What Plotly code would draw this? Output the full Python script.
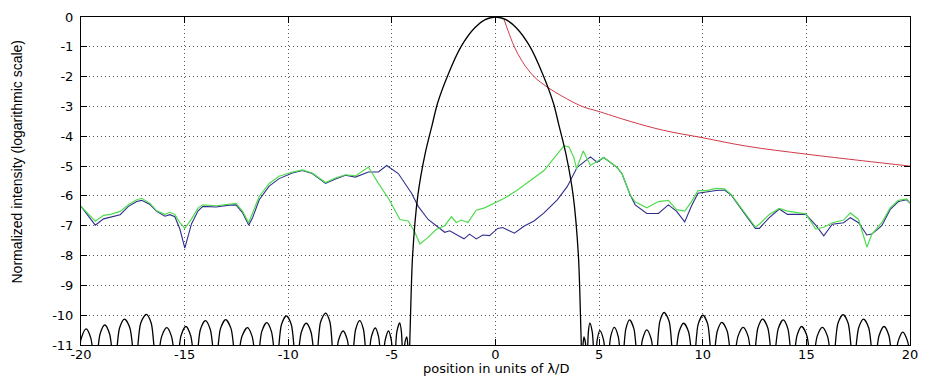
import plotly.graph_objects as go

# ---------------- data ----------------
# black: apodized PSF (log10 intensity), sidelobe arches + main lobe
black_x = [
    -20.2, -19.98, -19.75, -19.53, -19.30, -19.08, -18.85, -18.62, -18.38,
    -18.14, -17.90, -17.64, -17.38, -17.12, -16.85, -16.61, -16.36,
    -16.11, -15.86, -15.63, -15.40, -15.17, -14.94, -14.71, -14.47,
    -14.24, -14.00, -13.76, -13.51, -13.27, -13.02, -12.76, -12.50,
    -12.24, -11.97, -11.74, -11.51, -11.28, -11.04, -10.81, -10.57,
    -10.33, -10.09, -9.85, -9.61, -9.37, -9.13, -8.90, -8.67,
    -8.44, -8.20, -7.99, -7.78, -7.57, -7.35, -7.15, -6.95,
    -6.75, -6.55, -6.37, -6.18, -5.99, -5.80, -5.64, -5.48,
    -5.32, -5.16, -5.03, -4.89, -4.76, -4.62, -4.54, -4.45,
    -4.37, -4.28, -4.24, -4.19,
    -4.14, -4.10, -4.00, -3.75, -3.40, -3.05, -2.80, -2.30, -1.67, -1.00, -0.50,
    0.00,
    0.50, 1.00, 1.67, 2.30, 2.80, 3.05, 3.40, 3.75, 4.00, 4.10, 4.14,
    4.19, 4.23, 4.27, 4.34, 4.41, 4.48, 4.55, 4.67, 4.79,
    4.91, 5.03, 5.21, 5.38, 5.56, 5.73, 5.92, 6.10,
    6.29, 6.47, 6.68, 6.89, 7.10, 7.30, 7.51, 7.72,
    7.93, 8.14, 8.38, 8.61, 8.85, 9.08, 9.32, 9.55,
    9.78, 10.01, 10.24, 10.47, 10.70, 10.92, 11.18, 11.44,
    11.70, 11.95, 12.19, 12.42, 12.66, 12.89, 13.14, 13.39,
    13.64, 13.88, 14.11, 14.33, 14.55, 14.77, 15.02, 15.27,
    15.52, 15.77, 16.02, 16.27, 16.52, 16.77, 17.02, 17.27,
    17.52, 17.76, 18.01, 18.26, 18.51, 18.75, 18.98, 19.20,
    19.43, 19.65, 19.88, 20.1,
]
black_y = [
    -11.8, -10.76, -10.46, -10.76, -11.8, -10.63, -10.33, -10.63, -11.8,
    -10.43, -10.13, -10.43, -11.8, -10.27, -9.97, -10.27, -11.8,
    -10.72, -10.42, -10.72, -11.8, -10.68, -10.38, -10.68, -11.8,
    -10.48, -10.18, -10.48, -11.8, -10.45, -10.15, -10.45, -11.8,
    -10.72, -10.42, -10.72, -11.8, -10.55, -10.25, -10.55, -11.8,
    -10.32, -10.02, -10.32, -11.8, -10.57, -10.27, -10.57, -11.8,
    -10.23, -9.93, -10.23, -11.8, -10.83, -10.53, -10.83, -11.8,
    -10.48, -10.18, -10.48, -11.8, -10.73, -10.43, -10.73, -11.8,
    -10.83, -10.53, -10.83, -11.8, -10.56, -10.26, -10.56, -11.8,
    -10.93, -10.73, -10.93, -11.8,
    -11.0, -10.0, -8.0, -6.0, -4.6, -3.6, -2.9, -1.95, -1.0, -0.36, -0.09,
    0.0,
    -0.09, -0.36, -1.0, -1.95, -2.9, -3.6, -4.6, -6.0, -8.0, -10.0, -11.0,
    -11.8, -10.93, -10.73, -10.93, -11.8, -10.57, -10.27, -10.57, -11.8,
    -10.82, -10.52, -10.82, -11.8, -10.71, -10.41, -10.71, -11.8,
    -10.46, -10.16, -10.46, -11.8, -10.79, -10.49, -10.79, -11.8,
    -10.21, -9.91, -10.21, -11.8, -10.57, -10.27, -10.57, -11.8,
    -10.30, -10.00, -10.30, -11.8, -10.54, -10.24, -10.54, -11.8,
    -10.71, -10.41, -10.71, -11.8, -10.43, -10.13, -10.43, -11.8,
    -10.46, -10.16, -10.46, -11.8, -10.68, -10.38, -10.68, -11.8,
    -10.71, -10.41, -10.71, -11.8, -10.28, -9.98, -10.28, -11.8,
    -10.43, -10.13, -10.43, -11.8, -10.68, -10.38, -10.68, -11.8,
    -10.87, -10.57, -10.87, -11.8,
]

# blue curve
blue_x = [
    -20.0, -19.31, -18.91, -18.57, -18.11, -17.71, -17.31, -17.07, -16.67, -16.35,
    -15.95, -15.71, -15.47, -15.23, -14.99, -14.67, -14.35, -14.12, -13.48, -12.84,
    -12.52, -12.20, -11.91, -11.72, -11.40, -10.92, -10.44, -9.80, -9.32, -8.84,
    -8.20, -7.72, -7.24, -6.76, -6.13, -5.65, -5.25, -4.69, -4.05, -3.73,
    -3.25, -2.45, -2.21, -1.81, -1.52, -1.25, -0.93, -0.61, -0.29, 0.11,
    0.35, 0.91, 1.39, 1.86, 2.34, 2.98, 3.46, 3.94, 4.58, 4.90,
    5.22, 5.86, 6.10, 6.50, 6.74, 7.30, 7.86, 8.34, 8.73, 9.13,
    9.45, 9.77, 10.17, 10.65, 11.05, 11.37, 11.93, 12.54, 12.73, 13.21,
    13.69, 14.09, 14.65, 14.97, 15.45, 15.84, 16.25, 16.80, 17.12, 17.52,
    17.92, 18.16, 18.64, 19.04, 19.44, 19.84, 20.0,
]
blue_y = [
    -6.35, -6.98, -6.77, -6.70, -6.63, -6.35, -6.19, -6.15, -6.29, -6.52,
    -6.68, -6.63, -6.70, -7.11, -7.75, -6.94, -6.50, -6.35, -6.37, -6.31,
    -6.30, -6.57, -6.98, -6.73, -6.13, -5.67, -5.42, -5.23, -5.15, -5.25,
    -5.58, -5.43, -5.31, -5.37, -5.20, -5.20, -4.98, -5.25, -5.91, -6.35,
    -6.79, -7.22, -7.17, -7.33, -7.44, -7.28, -7.44, -7.31, -7.33, -7.09,
    -7.06, -7.25, -7.01, -6.84, -6.57, -6.13, -5.69, -5.04, -4.69, -4.87,
    -4.71, -5.04, -5.25, -5.97, -6.30, -6.59, -6.59, -6.30, -6.51, -6.87,
    -6.35, -5.91, -5.86, -5.82, -5.80, -5.97, -6.51, -7.09, -7.09, -6.73,
    -6.44, -6.62, -6.62, -6.62, -6.98, -7.34, -6.95, -6.90, -6.73, -6.90,
    -7.31, -7.28, -7.00, -6.46, -6.19, -6.13, -6.24,
]

# green curve
green_x = [
    -20.0, -19.31, -18.91, -18.57, -18.11, -17.71, -17.31, -17.07, -16.67, -16.35,
    -15.95, -15.71, -15.47, -15.23, -14.99, -14.67, -14.35, -14.12, -13.48, -12.84,
    -12.52, -12.20, -11.91, -11.72, -11.40, -10.92, -10.44, -9.80, -9.32, -8.84,
    -8.20, -7.72, -7.24, -6.76, -6.13, -5.65, -5.17, -4.61, -4.21, -3.89,
    -3.65, -3.25, -2.85, -2.45, -2.13, -1.89, -1.65, -1.33, -0.93, -0.53,
    -0.05, 0.43, 1.06, 1.70, 2.34, 2.98, 3.30, 3.54, 3.78, 3.91,
    4.23, 4.58, 4.82, 5.22, 5.86, 6.10, 6.50, 6.74, 7.30, 7.86,
    8.34, 8.73, 9.13, 9.45, 9.77, 10.17, 10.65, 11.05, 11.37, 11.93,
    12.54, 12.73, 13.21, 13.69, 14.09, 14.65, 14.97, 15.45, 15.84, 16.25,
    16.80, 17.12, 17.52, 17.92, 18.16, 18.64, 19.04, 19.44, 19.84, 20.0,
]
green_y = [
    -6.35, -6.85, -6.65, -6.62, -6.52, -6.30, -6.13, -6.08, -6.25, -6.50,
    -6.62, -6.55, -6.62, -6.90, -7.09, -6.78, -6.40, -6.30, -6.33, -6.27,
    -6.25, -6.52, -6.90, -6.57, -6.02, -5.58, -5.34, -5.20, -5.13, -5.23,
    -5.55, -5.40, -5.29, -5.33, -5.03, -5.58, -6.08, -6.79, -6.84, -7.22,
    -7.61, -7.39, -7.12, -7.00, -6.70, -6.89, -6.81, -6.89, -6.48, -6.40,
    -6.24, -6.08, -5.80, -5.47, -5.15, -4.60, -4.32, -4.35, -4.71, -5.09,
    -4.49, -4.98, -4.87, -4.71, -5.04, -5.25, -5.97, -6.20, -6.40, -6.19,
    -6.15, -6.46, -6.51, -6.20, -5.82, -5.82, -5.75, -5.76, -5.95, -6.49,
    -7.05, -6.95, -6.62, -6.42, -6.51, -6.57, -6.60, -7.11, -7.05, -6.90,
    -6.81, -6.57, -6.79, -7.72, -7.28, -6.90, -6.40, -6.15, -6.10, -6.24,
]

# red curve
red_x = [0.42, 0.60, 0.91, 1.30, 1.86, 2.50, 3.20, 4.18, 4.90, 6.50, 8.10, 10.0, 12.1, 15.0, 17.7, 20.0]
red_y = [-0.10, -0.45, -1.00, -1.50, -2.00, -2.35, -2.65, -3.00, -3.15, -3.50, -3.80, -4.05, -4.33, -4.60, -4.82, -5.00]

x_ticks = [-20, -15, -10, -5, 0, 5, 10, 15, 20]
x_ticktext = ["-20", "-15", "-10", "-5", "0", "5", "10", "15", "20"]
y_ticks = [0, -1, -2, -3, -4, -5, -6, -7, -8, -9, -10, -11]
y_ticktext = ["0", "-1", "-2", "-3", "-4", "-5", "-6", "-7", "-8", "-9", "-10", "-11"]

x_title = "position in units of λ/D"
y_title = "Normalized intensity (logarithmic scale)"

# ---------------- figure ----------------
fig = go.Figure()
fig.add_trace(go.Scatter(x=blue_x, y=blue_y, mode="lines",
                         line=dict(color="#2e2e8c", width=1.1)))
fig.add_trace(go.Scatter(x=green_x, y=green_y, mode="lines",
                         line=dict(color="#4fdc4f", width=1.2)))
fig.add_trace(go.Scatter(x=red_x, y=red_y, mode="lines",
                         line=dict(color="#d03a46", width=1, shape="spline")))
fig.add_trace(go.Scatter(x=black_x, y=black_y, mode="lines",
                         line=dict(color="#000000", width=1.3, shape="spline", smoothing=0.8)))

tick_font = dict(family="DejaVu Sans, Arial, sans-serif", size=13, color="#000")
common = dict(showline=True, linecolor="#000", linewidth=1, mirror="ticks",
              ticks="inside", ticklen=6, tickcolor="#000",
              showgrid=True, gridcolor="#555", gridwidth=1, griddash="1px,3px",
              zeroline=False, tickfont=tick_font)

fig.update_xaxes(range=[-20, 20], tickvals=x_ticks, ticktext=x_ticktext,
                 ticklabelstandoff=-3, **common)
fig.update_yaxes(range=[-11, 0], tickvals=y_ticks, ticktext=y_ticktext,
                 ticklabelstandoff=4, **common)

fig.add_annotation(text=x_title, xref="paper", yref="paper", x=0.5, y=-0.0985,
                   xanchor="center", yanchor="bottom", showarrow=False, borderpad=0,
                   font=dict(family="DejaVu Sans, Arial, sans-serif", size=13, color="#000"))
fig.add_annotation(text=y_title, xref="paper", yref="paper", x=-0.077, y=0.56,
                   xanchor="center", yanchor="middle", textangle=-90, showarrow=False,
                   font=dict(family="Liberation Sans, Arial, sans-serif", size=14, color="#000"))

fig.update_layout(width=928, height=378,
                  margin=dict(l=81, r=13, t=10, b=33),
                  paper_bgcolor="white", plot_bgcolor="white",
                  showlegend=False)

fig.write_html("out.html")
